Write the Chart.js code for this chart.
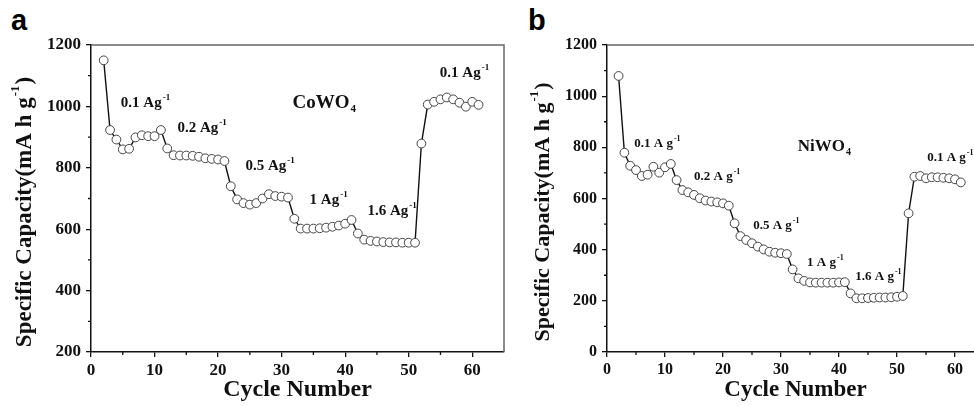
<!DOCTYPE html>
<html>
<head>
<meta charset="utf-8">
<script src="https://cdn.jsdelivr.net/npm/chart.js@4/dist/chart.umd.min.js"></script>
<style>
body { margin: 0; width: 974px; height: 406px; overflow: hidden; background: #fff; position: relative; }
canvas { position: absolute; top: 0; }
#leftChart { left: 0; }
#rightChart { left: 500px; }
.panel { position: absolute; top: 4px; font: bold 29px "Liberation Sans", Arial, sans-serif; color: #000; }
</style>
</head>
<body>
<div class="panel" style="left:11px">a</div>
<div class="panel" style="left:528px">b</div>
<canvas id="leftChart" width="510" height="406"></canvas>
<canvas id="rightChart" width="490" height="406"></canvas>
<script>
// cycle numbers shared by both panels
const cycles = [2, 3, 4, 5, 6, 7, 8, 9, 10, 11, 12, 13, 14, 15, 16, 17, 18, 19, 20, 21,
	22, 23, 24, 25, 26, 27, 28, 29, 30, 31, 32, 33, 34, 35, 36, 37, 38, 39, 40, 41,
	42, 43, 44, 45, 46, 47, 48, 49, 50, 51, 52, 53, 54, 55, 56, 57, 58, 59, 60, 61];

const cowo4Capacity = [1150, 923, 892, 860, 862, 899, 906, 903, 903, 923,
	863, 841, 840, 840, 839, 836, 831, 829, 827, 822,
	740, 697, 685, 680, 685, 700, 714, 708, 706, 703,
	634, 602, 602, 602, 603, 605, 608, 612, 618, 630,
	586, 566, 562, 560, 558, 557, 557, 556, 556, 556,
	879, 1006, 1015, 1023, 1029, 1023, 1012, 999, 1015, 1005];

const niwo4Capacity = [1079, 779, 728, 711, 688, 693, 724, 701, 722, 735,
	672, 633, 624, 614, 601, 592, 588, 585, 581, 572,
	503, 453, 438, 425, 412, 401, 392, 388, 386, 383,
	323, 288, 278, 272, 271, 271, 271, 271, 272, 273,
	229, 210, 210, 211, 212, 213, 213, 214, 216, 219,
	542, 685, 688, 679, 683, 683, 681, 679, 675, 663];

const xTicks = [0, 10, 20, 30, 40, 50, 60];
const leftYTicks = [200, 400, 600, 800, 1000, 1200];
const rightYTicks = [0, 200, 400, 600, 800, 1000, 1200];

const serif = '"Liberation Serif", "Times New Roman", serif';

// text with optional superscript / subscript tail
function drawRich(ctx, base, tail, mode, x, y, size) {
	ctx.font = `bold ${size}px ${serif}`;
	ctx.textBaseline = "middle";
	ctx.textAlign = "left";
	ctx.fillStyle = "#111";
	ctx.fillText(base, x, y);
	if (!tail) return ctx.measureText(base).width;
	const w = ctx.measureText(base).width;
	const small = Math.round(size * 0.58);
	ctx.font = `bold ${small}px ${serif}`;
	const dy = mode === "sup" ? -size * 0.38 : size * 0.32;
	ctx.fillText(tail, x + w + 1, y + dy);
	return w + 1 + ctx.measureText(tail).width;
}

const decor = {
	id: "decor",
	beforeDatasetsDraw(chart, args, opts) {
		const a = chart.chartArea;
		const ctx = chart.ctx;
		ctx.save();
		ctx.strokeStyle = "#666";
		ctx.lineWidth = 1.5;
		ctx.beginPath();
		ctx.moveTo(a.left, a.top);
		ctx.lineTo(a.right, a.top);
		ctx.lineTo(a.right, a.bottom);
		ctx.stroke();
		ctx.restore();
	},
	afterDraw(chart, args, opts) {
		const ctx = chart.ctx;
		const xs = chart.scales.x;
		const ys = chart.scales.y;
		ctx.save();
		// minor ticks
		ctx.strokeStyle = "#111";
		ctx.lineWidth = 1.3;
		ctx.beginPath();
		for (let v = 5; v < xs.max; v += 10) {
			const px = xs.getPixelForValue(v);
			ctx.moveTo(px, ys.bottom);
			ctx.lineTo(px, ys.bottom + 3);
		}
		for (let v = ys.min + 100; v < ys.max; v += 200) {
			const py = ys.getPixelForValue(v);
			ctx.moveTo(xs.left, py);
			ctx.lineTo(xs.left - 3, py);
		}
		ctx.stroke();
		// annotations
		opts.notes.forEach(n => {
			drawRich(ctx, n.text, n.tail, n.mode, xs.getPixelForValue(n.x), ys.getPixelForValue(n.y), n.size);
		});
		// y title
		ctx.translate(opts.yTitle.x, opts.yTitle.y);
		ctx.rotate(-Math.PI / 2);
		ctx.font = `bold ${opts.yTitle.size}px ${serif}`;
		const base = "Specific Capacity(mA h g";
		const small = Math.round(opts.yTitle.size * 0.58);
		const w1 = ctx.measureText(base).width;
		ctx.font = `bold ${small}px ${serif}`;
		const w2 = ctx.measureText("-1").width;
		ctx.font = `bold ${opts.yTitle.size}px ${serif}`;
		const w3 = ctx.measureText(")").width;
		let x0 = -(w1 + w2 + w3 + 2) / 2;
		ctx.textBaseline = "middle";
		ctx.fillStyle = "#111";
		ctx.fillText(base, x0, 0);
		ctx.font = `bold ${small}px ${serif}`;
		ctx.fillText("-1", x0 + w1 + 1, -opts.yTitle.size * 0.4);
		ctx.font = `bold ${opts.yTitle.size}px ${serif}`;
		ctx.fillText(")", x0 + w1 + w2 + 2, 0);
		ctx.restore();
	}
};

function makeChart(id, values, yMin, yTicks, box, fonts, notes, yTitle) {
	const points = cycles.map((c, i) => ({ x: c, y: values[i] }));
	return new Chart(document.getElementById(id), {
		type: "scatter",
		data: {
			datasets: [{
				data: points,
				showLine: true,
				borderColor: "#111",
				borderWidth: 1.4,
				pointRadius: 4.4,
				pointBackgroundColor: "#fff",
				pointBorderColor: "#444",
				pointBorderWidth: 1
			}]
		},
		options: {
			responsive: false,
			animation: false,
			layout: { autoPadding: false, padding: { left: 0, top: 45, right: box.padRight, bottom: 0 } },
			plugins: {
				legend: { display: false },
				tooltip: { enabled: false },
				decor: { notes: notes, yTitle: yTitle }
			},
			scales: {
				x: {
					type: "linear",
					min: 0,
					max: 65,
					afterFit: s => { s.height = 54; },
					afterBuildTicks: s => { s.ticks = xTicks.map(v => ({ value: v })); },
					ticks: { font: { family: serif, weight: "bold", size: fonts.tick }, color: "#111", padding: 3, callback: v => String(v) },
					grid: { drawOnChartArea: false, tickLength: 5, color: "#111", lineWidth: 1.3 },
					border: { color: "#111", width: 1.5 },
					title: { display: true, text: "Cycle Number", font: { family: serif, weight: "bold", size: fonts.title }, color: "#111", padding: { top: 0, bottom: 2 } }
				},
				y: {
					min: yMin,
					max: 1200,
					afterFit: s => { s.width = box.yWidth; },
					afterBuildTicks: s => { s.ticks = yTicks.map(v => ({ value: v })); },
					ticks: { font: { family: serif, weight: "bold", size: fonts.tick }, color: "#111", padding: 5, callback: v => String(v) },
					grid: { drawOnChartArea: false, tickLength: 5, color: "#111", lineWidth: 1.3 },
					border: { color: "#111", width: 1.5 }
				}
			}
		},
		plugins: [decor]
	});
}

makeChart("leftChart", cowo4Capacity, 200, leftYTicks,
	{ yWidth: 91, padRight: 6 }, { tick: 17, title: 24 },
	[
		{ text: "0.1 Ag", tail: "-1", mode: "sup", x: 4.7, y: 1011, size: 15 },
		{ text: "0.2 Ag", tail: "-1", mode: "sup", x: 13.6, y: 929, size: 15 },
		{ text: "0.5 Ag", tail: "-1", mode: "sup", x: 24.3, y: 805, size: 15 },
		{ text: "CoWO", tail: "4", mode: "sub", x: 31.7, y: 1011, size: 19 },
		{ text: "1 Ag", tail: "-1", mode: "sup", x: 34.4, y: 694, size: 15 },
		{ text: "1.6 Ag", tail: "-1", mode: "sup", x: 43.5, y: 658, size: 15 },
		{ text: "0.1 Ag", tail: "-1", mode: "sup", x: 54.9, y: 1109, size: 15 }
	],
	{ x: 25, y: 212, size: 23 });

makeChart("rightChart", niwo4Capacity, 0, rightYTicks,
	{ yWidth: 107, padRight: 6 }, { tick: 16, title: 23 },
	[
		{ text: "0.1 A g", tail: "-1", mode: "sup", x: 4.7, y: 813, size: 13 },
		{ text: "0.2 A g", tail: "-1", mode: "sup", x: 15, y: 684, size: 13 },
		{ text: "0.5 A g", tail: "-1", mode: "sup", x: 25.2, y: 493, size: 13 },
		{ text: "NiWO", tail: "4", mode: "sub", x: 32.9, y: 801, size: 17 },
		{ text: "1 A g", tail: "-1", mode: "sup", x: 34.5, y: 348, size: 13 },
		{ text: "1.6 A g", tail: "-1", mode: "sup", x: 42.8, y: 293, size: 13 },
		{ text: "0.1 A g", tail: "-1", mode: "sup", x: 55.2, y: 758, size: 13 }
	],
	{ x: 43, y: 212, size: 22 });
</script>
</body>
</html>
